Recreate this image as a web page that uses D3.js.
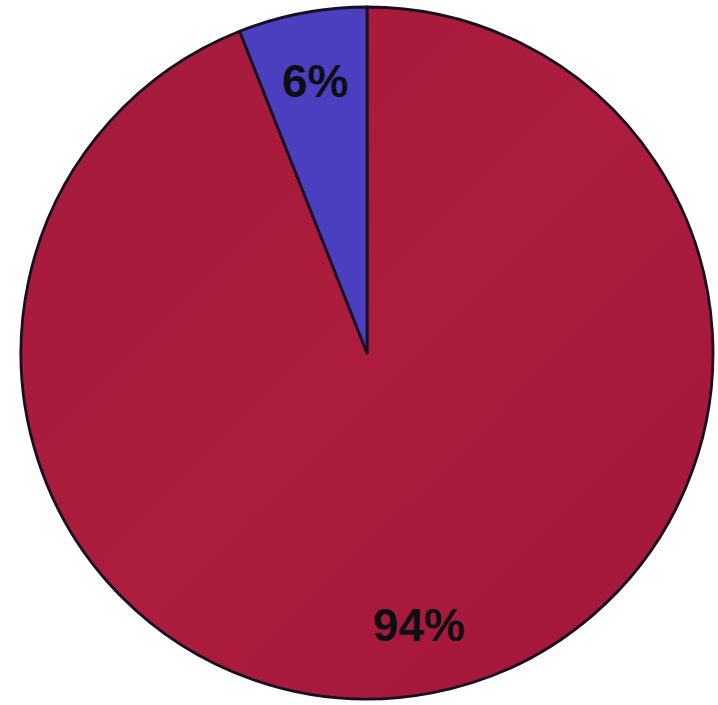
<!DOCTYPE html>
<html>
<head>
<meta charset="utf-8">
<script src="https://cdn.jsdelivr.net/npm/d3@7"></script>
<style>
html,body{margin:0;padding:0;background:#fff;}
svg{display:block;}
</style>
</head>
<body>
<svg id="chart" width="718" height="705"></svg>
<script>
const categories = ["Majority", "Minority"];
const values = [94, 6];
const labels = ["94%", "6%"];
const colors = ["#a91c3c", "#4a3fbf"];

const svg = d3.select("#chart");
const cx = 367, cy = 353, R = 346;

const defs = svg.append("defs");
const grad = defs.append("linearGradient").attr("id", "redg")
  .attr("x1", "0").attr("y1", "0").attr("x2", "1").attr("y2", "1");
grad.append("stop").attr("offset", "0").attr("stop-color", "#a3193a");
grad.append("stop").attr("offset", "0.5").attr("stop-color", "#ad1d3d");
grad.append("stop").attr("offset", "1").attr("stop-color", "#a11639");

const g = svg.append("g").attr("transform", `translate(${cx},${cy})`);

const pie = d3.pie().sort(null).value(d => d)(values);
const arc = d3.arc().innerRadius(0).outerRadius(R);
const labelArc = d3.arc().innerRadius(R * 0.8).outerRadius(R * 0.8);

g.selectAll("path.slice").data(pie).enter().append("path")
  .attr("class", "slice")
  .attr("d", arc)
  .attr("fill", (d, i) => i === 0 ? "url(#redg)" : colors[i])
  .attr("stroke", "#180f22")
  .attr("stroke-width", 2.8)
  .attr("stroke-linejoin", "round");

g.selectAll("text.lbl").data(pie).enter().append("text")
  .attr("class", "lbl")
  .attr("transform", d => `translate(${labelArc.centroid(d)})`)
  .attr("text-anchor", "middle")
  .attr("dominant-baseline", "central")
  .attr("font-family", "'Liberation Sans', Arial, sans-serif")
  .attr("font-weight", "bold")
  .attr("font-size", 46)
  .attr("fill", "#0e0e12")
  .text((d, i) => labels[i]);
</script>
</body>
</html>
